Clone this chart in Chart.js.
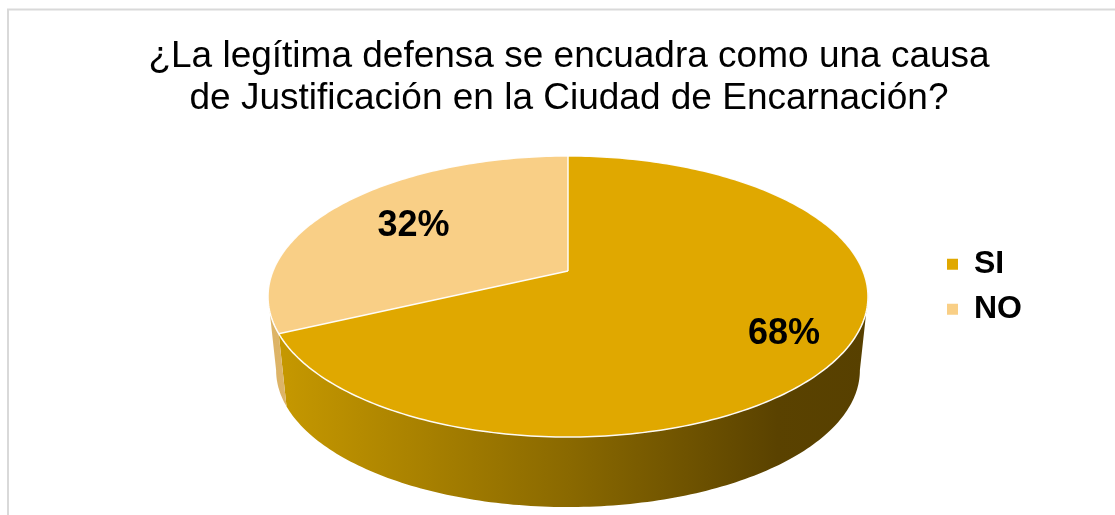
<!DOCTYPE html>
<html><head><meta charset="utf-8">
<script src="https://cdn.jsdelivr.net/npm/chart.js@4.4.1/dist/chart.umd.min.js"></script>
<style>html,body{margin:0;padding:0;background:#fff;overflow:hidden}</style>
</head><body>
<canvas id="c" width="1115" height="515"></canvas>
<script>
const categories = ['SI', 'NO'];
const values = [68, 32];
const titleLines = ['¿La legítima defensa se encuadra como una causa', 'de Justificación en la Ciudad de Encarnación?'];
const topColors = ['#E0A800', '#F9CF86'];
const sideStops = [
  [[0, '#C89A00'], [0.5, '#8A6900'], [0.85, '#5A4200'], [1, '#574000']],
  [[0, '#DDB467'], [1, '#CFA24E']]
];
const labelFrac = [0.8, 0.66];

const FONT = '"Liberation Sans", Arial, Helvetica, sans-serif';

const pie3d = {
  id: 'pie3d',
  beforeDraw(chart) {
    const ctx = chart.ctx;
    ctx.save();
    ctx.strokeStyle = '#D9D9D9';
    ctx.lineWidth = 2;
    ctx.strokeRect(8, 9.5, 3000, 3000);
    ctx.restore();
  },
  beforeDatasetsDraw(chart, args, o) {
    const ctx = chart.ctx;
    const arcs = chart.getDatasetMeta(0).data;
    if (!arcs.length) return false;
    const x0 = arcs[0].x, y0 = arcs[0].y, r0 = arcs[0].outerRadius;
    const {X0, Y0, A, B, k, vpY, lam} = o;
    const W = chart.width;
    // perspective map of the unit disc (u right, v toward viewer)
    const P = (u, v) => { const w = 1 + k * v; return [X0 + A * u / w, Y0 + B * v / w]; };
    const rim = t => P(Math.cos(t), Math.sin(t));
    const base = ([X, Y]) => [X0 + (X - X0) * lam, vpY + (Y - vpY) * lam];
    const vOfY = Y => (Y - Y0) / (B - k * (Y - Y0));
    const ts = Math.asin(-k);

    // side walls
    arcs.forEach((arc, i) => {
      const a = Math.max(arc.startAngle, ts), b = Math.min(arc.endAngle, Math.PI - ts);
      if (b <= a) return;
      const N = 150;
      ctx.save();
      ctx.beginPath();
      for (let j = 0; j <= N; j++) {
        const [X, Y] = rim(a + (b - a) * j / N);
        if (j) ctx.lineTo(X, Y); else ctx.moveTo(X, Y);
      }
      for (let j = N; j >= 0; j--) {
        const [X, Y] = base(rim(a + (b - a) * j / N));
        ctx.lineTo(X, Y);
      }
      ctx.closePath();
      const g = ctx.createLinearGradient(X0 - A * 1.017, 0, X0 + A * 1.017, 0);
      o.stops[i].forEach(([p, c]) => g.addColorStop(p, c));
      ctx.fillStyle = g;
      ctx.fill();
      ctx.restore();
    });

    // top face, drawn by the library's arcs through 1px perspective strips
    const yTop = P(0, -1)[1], yBot = P(0, 1)[1];
    for (let Y = Math.floor(yTop); Y < Math.ceil(yBot); Y++) {
      const va = vOfY(Y), vb = vOfY(Y + 1), vm = (va + vb) / 2;
      const s = A / (1 + k * vm);
      const m = 1 / (vb - va);
      ctx.save();
      ctx.beginPath();
      ctx.rect(0, Y, W, 1);
      ctx.clip();
      ctx.transform(s / r0, 0, 0, m / r0, X0 - s * x0 / r0, Y - m * (y0 / r0 + va));
      arcs.forEach(a => a.draw(ctx, chart.chartArea));
      ctx.restore();
    }

    // white outlines
    ctx.save();
    ctx.strokeStyle = 'rgba(255,255,255,0.95)';
    ctx.lineWidth = 1.5;
    ctx.beginPath();
    for (let j = 0; j <= 360; j++) {
      const [X, Y] = rim(j / 360 * Math.PI * 2);
      if (j) ctx.lineTo(X, Y); else ctx.moveTo(X, Y);
    }
    ctx.stroke();
    arcs.forEach(a => {
      const [X, Y] = rim(a.startAngle);
      ctx.beginPath();
      ctx.moveTo(X0, Y0);
      ctx.lineTo(X, Y);
      ctx.stroke();
    });

    // percentage labels
    const data = chart.data.datasets[0].data;
    const total = data.reduce((sum, v) => sum + v, 0);
    ctx.font = 'bold 36px ' + FONT;
    ctx.fillStyle = '#000';
    ctx.textAlign = 'center';
    ctx.textBaseline = 'middle';
    arcs.forEach((a, i) => {
      const mid = (a.startAngle + a.endAngle) / 2;
      const f = o.labelFrac[i];
      const [X, Y] = P(f * Math.cos(mid), f * Math.sin(mid));
      ctx.fillText(Math.round(data[i] / total * 100) + '%', X, Y);
    });
    ctx.restore();
    return false;
  }
};

new Chart(document.getElementById('c'), {
  type: 'pie',
  data: {
    labels: categories,
    datasets: [{ data: values, backgroundColor: topColors, borderWidth: 0 }]
  },
  plugins: [pie3d],
  options: {
    responsive: false,
    animation: false,
    events: [],
    devicePixelRatio: 1,
    layout: { padding: { left: 106, right: 83, bottom: 72, top: 0 } },
    plugins: {
      title: {
        display: true,
        text: titleLines,
        color: '#000',
        font: { family: FONT, size: 37, weight: 'normal', lineHeight: 1.14 },
        padding: { top: 36, bottom: 10 }
      },
      legend: {
        position: 'right',
        fullSize: false,
        labels: {
          boxWidth: 11, boxHeight: 11, padding: 13, color: '#000',
          font: { family: FONT, size: 32, weight: 'bold' }
        }
      },
      tooltip: { enabled: false },
      pie3d: {
        X0: 568, Y0: 271, A: 295, B: 135.9, k: -0.1815,
        vpY: 3030, lam: 0.973,
        stops: sideStops, labelFrac: labelFrac
      }
    }
  }
});
</script>
</body></html>
